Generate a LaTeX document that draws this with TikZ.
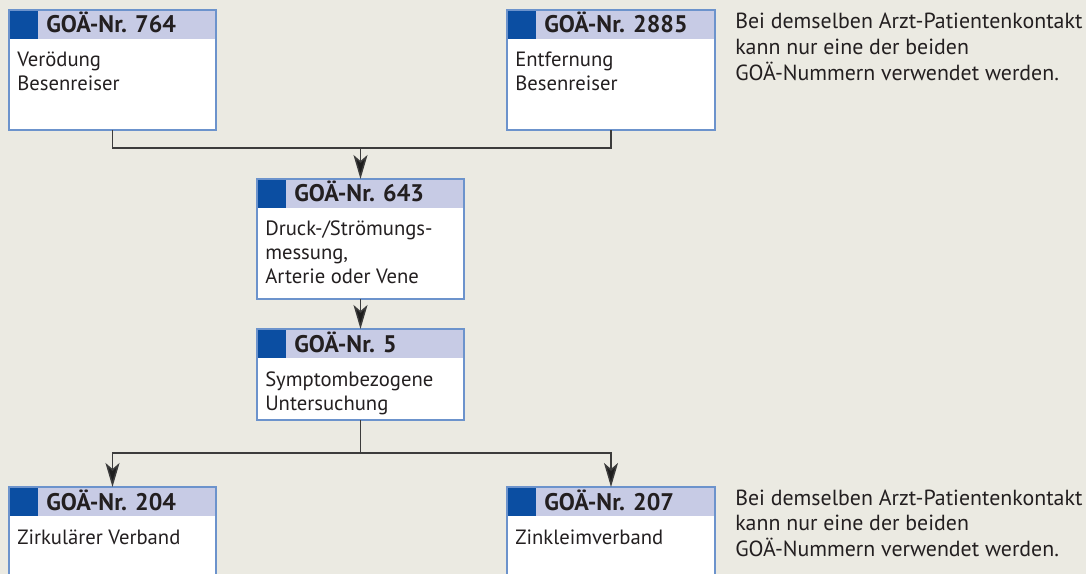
\documentclass[tikz,border=0pt]{standalone}
\usepackage{fontspec}
\setmainfont{PT Sans}
\usetikzlibrary{calc,fit,arrows.meta}
\definecolor{bgc}{HTML}{EBEAE2}
\definecolor{hdrc}{HTML}{C7CBE5}
\definecolor{darkc}{HTML}{0B4EA2}
\definecolor{borderc}{HTML}{6C93CC}
\definecolor{linec}{HTML}{3C3C3C}
\definecolor{arrc}{HTML}{1E1E1E}
\definecolor{txtc}{HTML}{231F20}
\newcommand\toplines[1]{\begin{tabular}[t]{@{}l@{}}#1\end{tabular}}
\tikzset{
  boxbody/.style={fill=white, inner sep=0pt, outer sep=0pt},
  hdrfill/.style={fill=hdrc},
  hdrdark/.style={fill=darkc},
  boxborder/.style={draw=borderc, line width=1pt},
  hdrtext/.style={inner sep=0pt, anchor=base west, font=\fontsize{18}{20}\selectfont\bfseries, text=txtc},
  bodytext/.style={inner sep=0pt, anchor=base west, font=\fontsize{15.5}{18}\selectfont, text=txtc},
  notetext/.style={inner sep=0pt, anchor=base west, font=\fontsize{16.4}{19.2}\selectfont, text=txtc},
  conn/.style={draw=linec, line width=1.1pt},
  arr/.style={draw=linec, line width=1.1pt, -{Stealth[length=18pt, width=10.5pt, inset=4.5pt, fill=arrc]}},
}
\newcommand\goabox[7]{%
  \coordinate (#1-nw) at (#2,#3);
  \coordinate (#1-se) at (#4,#5);
  \node[boxbody, fit=(#1-nw)(#1-se)] (#1) {};
  \fill[hdrfill] (#1.north west) rectangle ($(#1.north east)+(0,29)$);
  \fill[hdrdark] (#1.north west) rectangle ($(#1.north west)+(29,29)$);
  \draw[boxborder] (#1.south west) -- (#1.north west) -- (#1.north east) -- (#1.south east) -- cycle;
  \node[hdrtext] (#1-h) at ($(#1.north west)+(37,23)$) {GOÄ-Nr. #6};
  \node[bodytext] (#1-t) at ($(#1.north west)+(8,57)$) {\toplines{#7}};
}
\begin{document}
\begin{tikzpicture}[x=0.75pt, y=-0.75pt]
  \fill[bgc] (0,0) rectangle (1086,574);
  \useasboundingbox (0,0) rectangle (1086,574);
  \begin{scope}
  \clip (0,0) rectangle (1086,574);
  \goabox{b764}{9}{10}{216}{130}{764}{Verödung\\Besenreiser}
  \goabox{b2885}{507}{10}{715}{130}{2885}{Entfernung\\Besenreiser}
  \goabox{b643}{257}{179}{464}{299}{643}{Druck-/Strömungs-\\messung,\\Arterie oder Vene}
  \goabox{b5}{257}{329}{464}{420}{5}{Symptombezogene\\Untersuchung}
  \goabox{b204}{9}{487}{216}{600}{204}{Zirkulärer Verband}
  \goabox{b207}{507}{487}{715}{600}{207}{Zinkleimverband}
  \end{scope}
  \node[notetext] (n1) at (735,29) {\toplines{Bei demselben Arzt-Patientenkontakt\\kann nur eine der beiden\\GOÄ-Nummern verwendet werden.}};
  \node[notetext] (n2) at (735,505) {\toplines{Bei demselben Arzt-Patientenkontakt\\kann nur eine der beiden\\GOÄ-Nummern verwendet werden.}};
  \coordinate (jtop) at (360.5,148);
  \coordinate (jbot) at (360.5,453);
  \draw[conn] (b764.south) |- (jtop) -| (b2885.south);
  \draw[arr] (jtop) -- (b643.north);
  \draw[arr] (b643.south) -- (b5.north);
  \draw[conn] (b5.south) -- (jbot);
  \draw[arr] (jbot) -| (b204.north);
  \draw[arr] (jbot) -| (b207.north);
\end{tikzpicture}
\end{document}
